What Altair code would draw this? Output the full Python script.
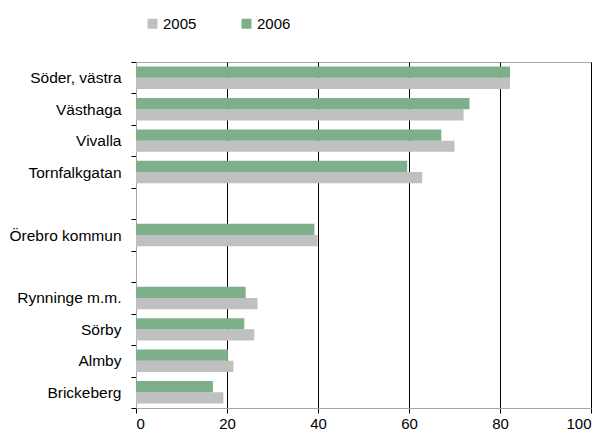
import altair as alt
import pandas as pd

categories = ["Söder, västra", "Västhaga", "Vivalla", "Tornfalkgatan", " ",
              "Örebro kommun", "  ", "Rynninge m.m.", "Sörby", "Almby", "Brickeberg"]
bar_categories = ["Söder, västra", "Västhaga", "Vivalla", "Tornfalkgatan",
                  "Örebro kommun", "Rynninge m.m.", "Sörby", "Almby", "Brickeberg"]
values_2005 = [82.2, 72.0, 70.0, 62.9, 39.9, 26.7, 26.0, 21.4, 19.2]
values_2006 = [82.2, 73.3, 67.1, 59.6, 39.2, 24.1, 23.8, 20.2, 16.9]
years = ["2005", "2006"]
colors = ["#c0c0c0", "#7db08a"]
x_ticks = [0, 20, 40, 60, 80, 100]

rows = []
for c, v5, v6 in zip(bar_categories, values_2005, values_2006):
    rows.append({"cat": c, "year": "2005", "value": v5})
    rows.append({"cat": c, "year": "2006", "value": v6})
df = pd.DataFrame(rows)

FONT = "Liberation Sans"

chart = alt.Chart(df).mark_bar().encode(
    x=alt.X("value:Q",
            scale=alt.Scale(domain=[0, 100], nice=False),
            axis=alt.Axis(values=x_ticks, title=None, grid=True,
                          gridColor={"condition": {"test": "datum.value === 0", "value": "#a6a6a6"}, "value": "#000000"},
                          gridOpacity=1,
                          domainColor="#a6a6a6", tickColor="#000000", tickSize=5,
                          labelFontSize=15, labelFont=FONT, labelColor="#000000",
                          labelPadding=3)),
    y=alt.Y("cat:N", sort=categories,
            scale=alt.Scale(domain=categories, paddingInner=0, paddingOuter=0),
            axis=alt.Axis(title=None, tickBand="extent", domainColor="#a6a6a6",
                          tickColor="#000000", tickSize=5, labelPadding=10,
                          labelFontSize=15.5, labelFont=FONT, labelColor="#000000")),
    yOffset=alt.YOffset("year:N", sort=["2006", "2005"],
                        scale=alt.Scale(paddingInner=0, paddingOuter=0.4)),
    color=alt.Color("year:N", scale=alt.Scale(domain=years, range=colors),
                    legend=alt.Legend(title=None, orient="none", direction="horizontal",
                                      legendX=9, legendY=-46, symbolType="square",
                                      symbolSize=100, symbolStrokeWidth=0,
                                      labelFontSize=15, labelFont=FONT, labelColor="#000000",
                                      columnPadding=42, labelOffset=3)),
).properties(
    width=455, height=346,
    autosize=alt.AutoSizeParams(type="none"),
    padding={"left": 128, "top": 54, "right": 10, "bottom": 29},
).configure_view(stroke="#a6a6a6")

chart.save("out.html", embed_options={"renderer": "svg", "actions": False})
